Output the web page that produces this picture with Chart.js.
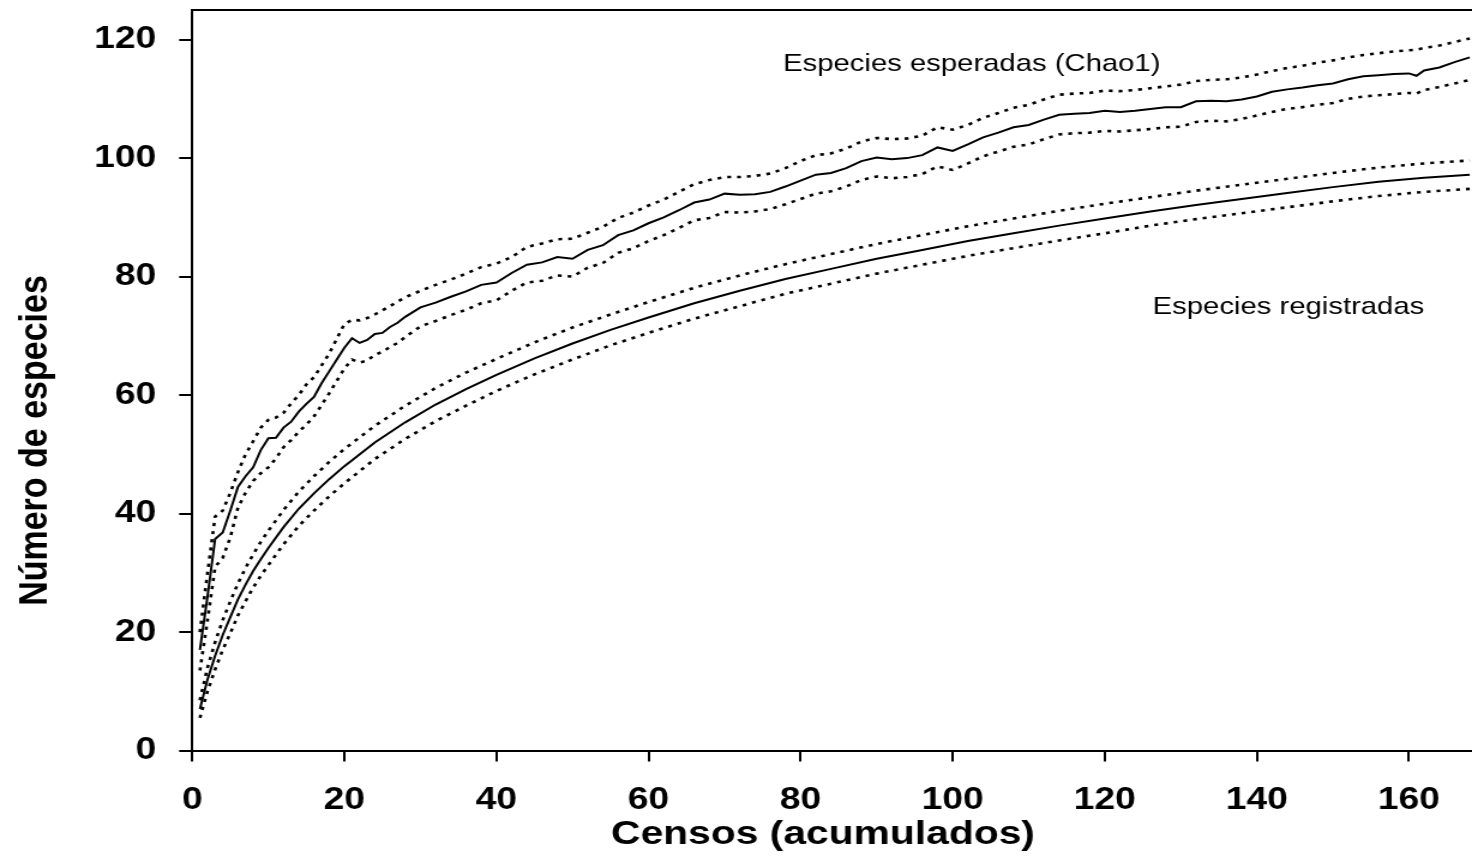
<!DOCTYPE html>
<html>
<head>
<meta charset="utf-8">
<title>Curvas de acumulación de especies</title>
<script src="https://cdn.jsdelivr.net/npm/chart.js@4.4.1/dist/chart.umd.min.js"></script>
<style>
  html, body { margin: 0; padding: 0; background: #fff; overflow: hidden; }
</style>
</head>
<body>
<!-- drawn 1227 px wide and shown 1472 px wide: the source figure is stretched sideways -->
<canvas id="chart" width="1227" height="859" style="display:block;width:1472px;height:859px"></canvas>
<script>
// Especies registradas (observed) with its confidence bounds
const obsCensos = [1, 2, 3, 4, 5, 6, 7, 8, 9, 10, 12, 14, 16, 18, 20, 24, 28, 32, 36, 40, 45, 50, 55, 60, 66, 72, 78, 84, 90, 96, 102, 108, 114, 120, 126, 132, 138, 144, 150, 156, 162, 168];
const obsMean = [7, 12, 16, 19.5, 22.5, 25.5, 28, 30.3, 32.3, 34.2, 37.7, 40.8, 43.4, 45.8, 48, 52, 55.4, 58.4, 61, 63.4, 66.2, 68.7, 71, 73.1, 75.5, 77.6, 79.6, 81.3, 83, 84.5, 86, 87.3, 88.6, 89.8, 91, 92.1, 93.1, 94.1, 95.1, 96, 96.7, 97.2];
const obsUpper = [8.5, 14, 18.3, 22, 25.2, 28.2, 30.8, 33.1, 35.2, 37.1, 40.6, 43.7, 46.3, 48.7, 50.9, 54.8, 58.2, 61.2, 63.8, 66.1, 68.9, 71.4, 73.6, 75.7, 78.1, 80.2, 82.1, 83.8, 85.5, 87, 88.5, 89.8, 91.1, 92.3, 93.4, 94.5, 95.5, 96.5, 97.5, 98.4, 99.1, 99.6];
const obsLower = [5.5, 10, 13.7, 17, 19.8, 22.8, 25.2, 27.5, 29.5, 31.3, 34.8, 37.9, 40.5, 42.9, 45.1, 49.2, 52.6, 55.6, 58.2, 60.7, 63.5, 66, 68.4, 70.5, 72.9, 75, 77.1, 78.8, 80.5, 82, 83.5, 84.8, 86.1, 87.3, 88.6, 89.7, 90.7, 91.7, 92.7, 93.6, 94.3, 94.8];

// Especies esperadas (Chao1) with its confidence bounds
const chaoCensos = [1, 2, 3, 4, 5, 6, 7, 8, 9, 10, 11, 12, 13, 14, 15, 16, 17, 18, 19, 20, 21, 22, 23, 24, 25, 26, 27, 28,
  30, 32, 34, 36, 38, 40, 42, 44, 46, 48, 50, 52, 54, 56, 58, 60, 62, 64, 66, 68, 70, 72, 74, 76, 78, 80, 82, 84, 86, 88,
  90, 92, 94, 96, 98, 100, 102, 104, 106, 108, 110, 112, 114, 116, 118, 120, 122, 124, 126, 128, 130, 132, 134, 136, 138,
  140, 142, 144, 146, 148, 150, 152, 154, 156, 158, 160, 161, 162, 164, 166, 168];
const chaoMean = [17, 26, 35.7, 36.8, 40.5, 44.5, 46.3, 47.8, 50.7, 52.7,
  52.8, 54.5, 55.5, 57.2, 58.5, 59.7, 62, 64, 66, 68,
  69.6, 68.8, 69.3, 70.3, 70.5, 71.5, 72.2, 73.2,
  74.8, 75.6, 76.6, 77.5, 78.6, 79, 80.6, 82, 82.4, 83.3,
  83, 84.5, 85.3, 87, 87.8, 89, 90, 91.2, 92.5, 93,
  94, 93.8, 93.9, 94.3, 95.2, 96.2, 97.2, 97.5, 98.3, 99.5,
  100.1, 99.8, 100, 100.5, 101.8, 101.2, 102.3, 103.5, 104.3, 105.2,
  105.6, 106.5, 107.3, 107.5, 107.6, 108, 107.8, 108, 108.3, 108.6,
  108.6, 109.6, 109.7, 109.6, 109.9, 110.4, 111.2, 111.6, 111.9, 112.3,
  112.6, 113.3, 113.8, 114, 114.2, 114.3,
  113.9, 114.8, 115.3, 116.2, 117];
const chaoUpper = [20, 30, 39.5, 40.5, 43.5, 47, 50, 52.2, 54.5, 55.8,
  56.2, 57, 58.6, 60, 61.8, 63, 65, 67, 69.5, 72,
  72.7, 72.6, 73, 73.6, 74.3, 75, 75.8, 76.5,
  77.6, 78.6, 79.5, 80.5, 81.6, 82.2, 83.3, 85, 85.6, 86.3,
  86.4, 87.4, 88.4, 89.9, 90.8, 92, 93, 94.3, 95.6, 96.3,
  96.8, 96.8, 97, 97.4, 98.3, 99.5, 100.5, 100.8, 101.6, 102.8,
  103.4, 103.2, 103.3, 103.8, 105.2, 104.8, 105.6, 106.8, 107.6, 108.5,
  109, 109.9, 110.7, 110.9, 111, 111.4, 111.3, 111.5, 111.8, 112.1,
  112.4, 113, 113.2, 113.3, 113.6, 114.1, 114.7, 115.2, 115.6, 116.1,
  116.5, 117, 117.4, 117.7, 118, 118.2,
  118.3, 118.6, 119, 119.6, 120.2];
const chaoLower = [13.5, 22, 31, 32.5, 36, 41, 43.5, 45.5, 46.8, 47.8,
  49.3, 51.2, 52.4, 53.8, 55, 56.4, 58.3, 60.3, 62.4, 64.5,
  66, 65.5, 65.8, 66.8, 67.3, 68.1, 68.8, 69.8,
  71.6, 72.5, 73.5, 74.4, 75.5, 76, 77.6, 79, 79.3, 80.2,
  80, 81.5, 82.3, 84, 84.8, 86, 87, 88.2, 89.5, 89.9,
  90.9, 90.8, 91, 91.4, 92.2, 93.1, 94, 94.4, 95.2, 96.3,
  96.9, 96.6, 96.8, 97.3, 98.6, 98, 99.1, 100.3, 101.1, 101.9,
  102.3, 103.2, 104, 104.2, 104.3, 104.6, 104.5, 104.7, 104.9, 105.2,
  105.3, 106.1, 106.3, 106.2, 106.6, 107.2, 107.8, 108.3, 108.6, 109,
  109.3, 110, 110.4, 110.6, 110.8, 111,
  110.9, 111.5, 112, 112.6, 113.2];

const xTicks = [0, 20, 40, 60, 80, 100, 120, 140, 160];
const yTicks = [0, 20, 40, 60, 80, 100, 120];

const FONT = '"Liberation Sans", Arial, Helvetica, sans-serif';

const toPoints = (xs, ys) => xs.map((x, i) => ({ x: x, y: ys[i] }));

const solid = (label, xs, ys) => ({
  label: label,
  data: toPoints(xs, ys),
  borderColor: '#000',
  borderWidth: 2,
  pointRadius: 0,
  tension: 0,
});

const dotted = (label, xs, ys) => ({
  label: label,
  data: toPoints(xs, ys),
  borderColor: '#000',
  borderWidth: 2.6,
  borderDash: [3.2, 5],
  borderCapStyle: 'butt',
  pointRadius: 0,
  tension: 0,
});

// top frame line, curve labels and axis titles
const frameAndText = {
  id: 'frameAndText',
  afterDraw(chart) {
    const { ctx, chartArea, scales } = chart;
    ctx.save();
    ctx.strokeStyle = '#000';
    ctx.lineWidth = 2;
    ctx.beginPath();
    ctx.moveTo(chartArea.left - 1, chartArea.top);
    ctx.lineTo(chartArea.right, chartArea.top);
    ctx.stroke();

    ctx.fillStyle = '#000';
    ctx.textBaseline = 'alphabetic';
    ctx.textAlign = 'left';
    ctx.font = '24.4px ' + FONT;
    ctx.fillText('Especies esperadas (Chao1)', scales.x.getPixelForValue(77.7), scales.y.getPixelForValue(114.7));
    ctx.fillText('Especies registradas', scales.x.getPixelForValue(126.3), scales.y.getPixelForValue(73.7));

    ctx.font = 'bold 34px ' + FONT;
    ctx.textAlign = 'center';
    ctx.fillText('Censos (acumulados)', 686, 844);
    ctx.translate(39, 440.5);
    ctx.rotate(-Math.PI / 2);
    ctx.fillText('Número de especies', 0, 0);
    ctx.restore();
  },
};

const keepTicks = (values) => (scale) => {
  scale.ticks = values.map((v) => ({ value: v }));
};

// fixed axis box sizes, and no extra room for the end labels
const fitX = (s) => {
  s.height = 108.5;
  s.paddingLeft = 0;
  s.paddingRight = 0;
};
const fitY = (s) => {
  s.width = 160.3;
  s.paddingTop = 0;
  s.paddingBottom = 0;
};

const axisGrid = {
  drawOnChartArea: false,
  drawTicks: true,
  tickLength: 11,
  lineWidth: 2,
  tickWidth: 2,
  color: '#000',
  tickColor: '#000',
};

new Chart(document.getElementById('chart').getContext('2d'), {
  type: 'line',
  data: {
    datasets: [
      dotted('Chao1 superior', chaoCensos, chaoUpper),
      solid('Especies esperadas (Chao1)', chaoCensos, chaoMean),
      dotted('Chao1 inferior', chaoCensos, chaoLower),
      dotted('Registradas superior', obsCensos, obsUpper),
      solid('Especies registradas', obsCensos, obsMean),
      dotted('Registradas inferior', obsCensos, obsLower),
    ],
  },
  options: {
    responsive: false,
    devicePixelRatio: 1,
    animation: false,
    layout: { autoPadding: false, padding: { top: 10, right: 0, bottom: 0, left: 0 } },
    plugins: {
      legend: { display: false },
      tooltip: { enabled: false },
    },
    scales: {
      x: {
        type: 'linear',
        min: 0,
        max: 168.3,
        afterBuildTicks: keepTicks(xTicks),
        afterFit: fitX,
        grid: axisGrid,
        border: { display: true, color: '#000', width: 2 },
        ticks: {
          padding: 20,
          color: '#000',
          maxRotation: 0,
          autoSkip: false,
          font: { family: FONT, size: 31, weight: 'bold', lineHeight: 1.2 },
        },
      },
      y: {
        type: 'linear',
        min: 0,
        max: 125,
        afterBuildTicks: keepTicks(yTicks),
        afterFit: fitY,
        grid: axisGrid,
        border: { display: true, color: '#000', width: 2 },
        ticks: {
          padding: 19,
          color: '#000',
          font: { family: FONT, size: 31, weight: 'bold', lineHeight: 1.2 },
        },
      },
    },
  },
  plugins: [frameAndText],
});
</script>
</body>
</html>
